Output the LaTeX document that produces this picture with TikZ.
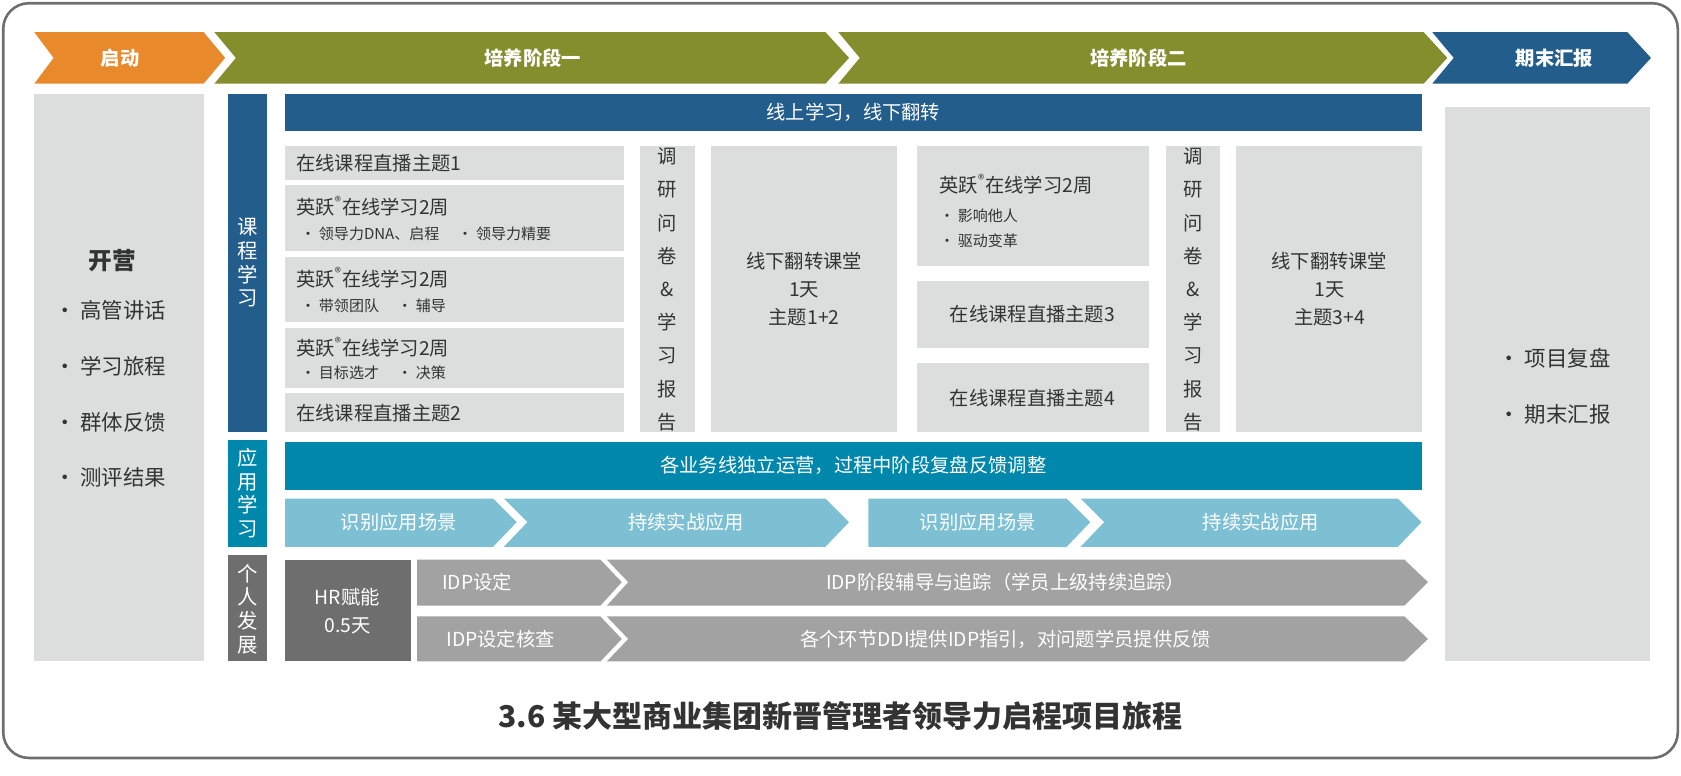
\documentclass[tikz,border=0pt]{standalone}
\usepackage{fontspec}
\setmainfont{Noto Sans CJK SC}
\newfontfamily\cjkb[BoldFont={Noto Sans CJK SC Bold}]{Noto Sans CJK SC}
\definecolor{cor}{HTML}{E8892C}
\definecolor{cgr}{HTML}{848E2D}
\definecolor{cbl}{HTML}{225D8B}
\definecolor{ctl}{HTML}{0088AC}
\definecolor{clb}{HTML}{7DC0D4}
\definecolor{clg}{HTML}{DCDDDD}
\definecolor{cmg}{HTML}{A2A2A2}
\definecolor{cdg}{HTML}{6E6E6E}
\definecolor{ctx}{HTML}{333333}
\begin{document}
\begin{tikzpicture}[x=0.5pt,y=-0.5pt,
  txt/.style={font=\fontsize{9}{11}\selectfont,text=ctx,inner sep=0pt},
  wtxt/.style={font=\fontsize{9}{11}\selectfont,text=white,inner sep=0pt},
  btxt/.style={font=\fontsize{9}{11}\selectfont\bfseries,text=white,inner sep=0pt},
  stxt/.style={font=\fontsize{7}{9}\selectfont,text=ctx,inner sep=0pt}]
\useasboundingbox (0,0) rectangle (1568,723);
\draw[line width=1.2pt,draw=cdg,rounded corners=12pt] (3,3) rectangle (1565,707);
% top arrows
\fill[cor] (32,30)--(190,30)--(210,54)--(190,78)--(32,78)--(50,54)--cycle;
\node[btxt] (a1) at (112,54) {启动};
\fill[cgr] (200,30)--(770,30)--(792,54)--(770,78)--(200,78)--(220,54)--cycle;
\node[btxt] (a2) at (497,54) {培养阶段一};
\fill[cgr] (782,30)--(1328,30)--(1350,54)--(1328,78)--(782,78)--(802,54)--cycle;
\node[btxt] (a3) at (1062,54) {培养阶段二};
\fill[cbl] (1336,30)--(1518,30)--(1540,54)--(1518,78)--(1336,78)--(1356,54)--cycle;
\node[btxt] (a4) at (1450,54) {期末汇报};
% left box
\fill[clg] (32,88) rectangle (190,617);
\node[txt,font=\fontsize{11}{13}\selectfont\bfseries] (kai) at (105,243) {开营};
\node[txt,font=\fontsize{10}{26}\selectfont,align=left,anchor=north west] (kl) at (50,280) {• 高管讲话\\• 学习旅程\\• 群体反馈\\• 测评结果};
% side labels
\fill[cbl] (213,88) rectangle (249,403);
\node[wtxt,align=center,font=\fontsize{9.5}{11}\selectfont] (l1) at (231,245) {课\\程\\学\\习};
\fill[ctl] (213,410) rectangle (249,510);
\node[wtxt,align=center,font=\fontsize{9.5}{11}\selectfont] (l2) at (231,460) {应\\用\\学\\习};
\fill[cdg] (213,518) rectangle (249,617);
\node[wtxt,align=center,font=\fontsize{9.5}{11}\selectfont] (l3) at (231,568) {个\\人\\发\\展};
% blue bar
\fill[cbl] (266,88) rectangle (1326,122);
\node[wtxt] (bb) at (796,105) {线上学习，线下翻转};
% left column
\fill[clg] (266,136) rectangle (582,168);
\node[txt,anchor=west] (c1) at (276,152) {在线课程直播主题1};
\fill[clg] (266,173) rectangle (582,234);
\node[txt,anchor=west] (c2) at (276,192) {英跃\textsuperscript{®}在线学习2周};
\node[stxt,anchor=west] (c2s) at (280,218) {・ 领导力DNA、启程 \quad ・ 领导力精要};
\fill[clg] (266,240) rectangle (582,300);
\node[txt,anchor=west] (c3) at (276,259) {英跃\textsuperscript{®}在线学习2周};
\node[stxt,anchor=west] (c3s) at (280,285) {・ 带领团队 \quad ・ 辅导};
\fill[clg] (266,306) rectangle (582,362);
\node[txt,anchor=west] (c4) at (276,324) {英跃\textsuperscript{®}在线学习2周};
\node[stxt,anchor=west] (c4s) at (280,348) {・ 目标选才 \quad ・ 决策};
\fill[clg] (266,367) rectangle (582,403);
\node[txt,anchor=west] (c5) at (276,385) {在线课程直播主题2};
% survey col 1
\fill[clg] (597,136) rectangle (648,403);
\node[txt,align=center,font=\fontsize{9}{15.5}\selectfont] (s1) at (622,270) {调\\研\\问\\卷\\\&\\学\\习\\报\\告};
\fill[clg] (663,136) rectangle (837,403);
\node[txt,align=center,font=\fontsize{9}{13}\selectfont] (f1) at (750,270) {线下翻转课堂\\1天\\主题1+2};
% right block
\fill[clg] (855,136) rectangle (1072,248);
\node[txt,anchor=west] (r1) at (876,172) {英跃\textsuperscript{®}在线学习2周};
\node[stxt,anchor=west,align=left,font=\fontsize{7}{12}\selectfont] (r1s) at (876,213) {• 影响他人\\• 驱动变革};
\fill[clg] (855,262) rectangle (1072,325);
\node[txt] (r2) at (963,293) {在线课程直播主题3};
\fill[clg] (855,339) rectangle (1072,403);
\node[txt] (r3) at (963,371) {在线课程直播主题4};
\fill[clg] (1088,136) rectangle (1138,403);
\node[txt,align=center,font=\fontsize{9}{15.5}\selectfont] (s2) at (1113,270) {调\\研\\问\\卷\\\&\\学\\习\\报\\告};
\fill[clg] (1153,136) rectangle (1326,403);
\node[txt,align=center,font=\fontsize{9}{13}\selectfont] (f2) at (1240,270) {线下翻转课堂\\1天\\主题3+4};
% application
\fill[ctl] (266,412) rectangle (1326,457);
\node[wtxt] (tb) at (796,434) {各业务线独立运营，过程中阶段复盘反馈调整};
\fill[clb] (266,465)--(460,465)--(482,487)--(460,510)--(266,510)--cycle;
\node[wtxt] (p1) at (372,487) {识别应用场景};
\fill[clb] (470,465)--(770,465)--(792,487)--(770,510)--(470,510)--(492,487)--cycle;
\node[wtxt] (p2) at (640,487) {持续实战应用};
\fill[clb] (810,465)--(995,465)--(1017,487)--(995,510)--(810,510)--cycle;
\node[wtxt] (p3) at (912,487) {识别应用场景};
\fill[clb] (1008,465)--(1304,465)--(1326,487)--(1304,510)--(1008,510)--(1030,487)--cycle;
\node[wtxt] (p4) at (1176,487) {持续实战应用};
% personal
\fill[cdg] (266,522) rectangle (383,617);
\node[wtxt,align=center,font=\fontsize{9}{13}\selectfont] (hr) at (324,570) {HR赋能\\0.5天};
\fill[cmg] (389,522)--(560,522)--(580,543)--(560,565)--(389,565)--cycle;
\node[wtxt] (i1) at (445,543) {IDP设定};
\fill[cmg] (566,522)--(1310,522)--(1332,543)--(1310,565)--(566,565)--(586,543)--cycle;
\node[wtxt] (i2) at (938,543) {IDP阶段辅导与追踪（学员上级持续追踪）};
\fill[cmg] (389,575)--(560,575)--(580,596)--(560,617)--(389,617)--cycle;
\node[wtxt] (i3) at (467,596) {IDP设定核查};
\fill[cmg] (566,575)--(1310,575)--(1332,596)--(1310,617)--(566,617)--(586,596)--cycle;
\node[wtxt] (i4) at (938,596) {各个环节DDI提供IDP指引，对问题学员提供反馈};
% right box
\fill[clg] (1348,100) rectangle (1539,617);
\node[txt,font=\fontsize{10}{26}\selectfont,align=left] (rb) at (1450,360) {• 项目复盘\\• 期末汇报};
% title
\node[txt,font=\fontsize{14}{16}\selectfont\bfseries] (title) at (784,668) {3.6 某大型商业集团新晋管理者领导力启程项目旅程};
\end{tikzpicture}
\end{document}
